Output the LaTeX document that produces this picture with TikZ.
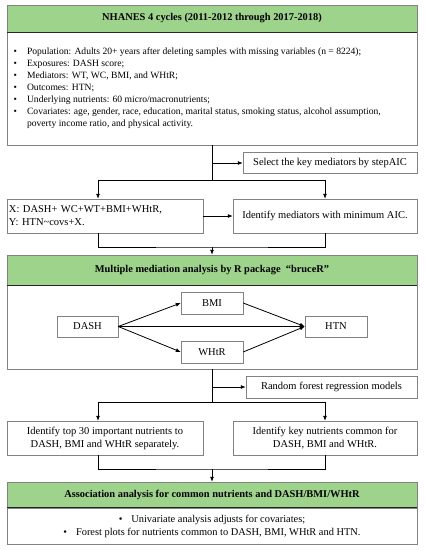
\documentclass[tikz,border=0pt]{standalone}
\usepackage{fontspec}
\setmainfont{Liberation Serif}
\usetikzlibrary{arrows.meta,calc}
\definecolor{hdrgreen}{RGB}{157,211,139}
\definecolor{boxgray}{RGB}{130,130,130}
\begin{document}
\begin{tikzpicture}[x=1pt,y=-1pt,
        hdr/.style={draw=boxgray,fill=hdrgreen,minimum width=410pt,inner sep=0pt,font=\fontsize{10.4}{12}\selectfont\bfseries},
        panel/.style={draw=boxgray,minimum width=410pt,inner sep=0pt},
        box/.style={draw=boxgray,inner sep=0pt,align=center,font=\fontsize{10.5}{13}\selectfont},
        hdrline/.style={line width=0.9pt,black!85},
        arr/.style={-{Latex[length=5pt,width=4pt]},line width=0.8pt},
        link/.style={line width=0.8pt}]
    \useasboundingbox (0,0) rectangle (424,550);
    % first stage: data
    \node [panel,minimum height=113pt] (bodyA) at (212,88.5) {};
    \node [hdr,minimum height=27pt] (hdrA) at (212,18.5) {NHANES 4 cycles (2011-2012 through 2017-2018)};
    \draw [hdrline] (hdrA.south west) -- (hdrA.south east);
    \node [anchor=west,inner sep=0pt,font=\fontsize{9.6}{12}\selectfont] (listA) at (13.5,88.5) {%
        \begin{tabular}{@{}l@{\hspace{10pt}}l@{}}
            \textbullet & Population: Adults 20+ years after deleting samples with missing variables (n = 8224);\\
            \textbullet & Exposures: DASH score;\\
            \textbullet & Mediators: WT, WC, BMI, and WHtR;\\
            \textbullet & Outcomes: HTN;\\
            \textbullet & Underlying nutrients: 60 micro/macronutrients;\\
            \textbullet & Covariates: age, gender, race, education, marital status, smoking status, alcohol assumption,\\
                        & poverty income ratio, and physical activity.
        \end{tabular}};
    % stepAIC
    \node [box,minimum width=174pt,minimum height=21pt] (aic) at (330,163) {Select the key mediators by stepAIC};
    \node [box,minimum width=196pt,minimum height=34pt,align=left,text width=192pt] (model) at (105,216)
        {X: DASH+ WC+WT+BMI+WHtR,\\Y: HTN\char`~covs+X.};
    \node [box,minimum width=184pt,minimum height=34pt] (ident) at (325,216) {Identify mediators with minimum AIC.};
    \coordinate (junA) at (212,163);
    \coordinate (splitA) at (212,180);
    \coordinate (tapL) at (98,180);
    \coordinate (tapR) at (325,180);
    \coordinate (mergeA) at (212,247);
    \draw [link] (bodyA.south) -- (splitA);
    \draw [arr] (junA) -- (aic.west);
    \draw [link] (tapL) -- (tapR);
    \draw [arr] (tapL) -- (model.north -| tapL);
    \draw [arr] (tapR) -- (ident.north);
    \draw [arr] (model.east |- ident.west) -- (ident.west);
    \draw [link] (model.south -| tapL) |- (mergeA) -| (ident.south);
    % second stage: mediation
    \node [panel,minimum height=84pt] (bodyB) at (212,327) {};
    \node [hdr,minimum height=30pt] (hdrB) at (212,270) {Multiple mediation analysis by R package \ \textquotedblleft bruceR\textquotedblright};
    \draw [hdrline] (hdrB.south west) -- (hdrB.south east);
    \draw [arr] (mergeA) -- (hdrB.north);
    \node [box,minimum width=61pt,minimum height=21pt] (dash) at (87.5,326.5) {DASH};
    \node [box,minimum width=62pt,minimum height=22pt] (bmi) at (212,303) {BMI};
    \node [box,minimum width=62pt,minimum height=22pt] (whtr) at (212,352) {WHtR};
    \node [box,minimum width=62pt,minimum height=21pt] (htn) at (336,326.5) {HTN};
    \draw [arr] (dash.east) -- (bmi.west);
    \draw [arr] (dash.east) -- (whtr.west);
    \draw [arr] (dash.east) -- (htn.west);
    \draw [arr] (bmi.east) -- (htn.west);
    \draw [arr] (whtr.east) -- (htn.west);
    % random forest
    \node [box,minimum width=171pt,minimum height=22pt] (rf) at (331.5,387) {Random forest regression models};
    \node [box,minimum width=196pt,minimum height=34pt] (top) at (105,438) {Identify top 30 important nutrients to\\DASH, BMI and WHtR separately.};
    \node [box,minimum width=184pt,minimum height=34pt] (common) at (325,438) {Identify key nutrients common for\\DASH, BMI and WHtR.};
    \coordinate (junB) at (212,387);
    \coordinate (splitB) at (212,402);
    \coordinate (tapLB) at (98,402);
    \coordinate (tapRB) at (325,402);
    \coordinate (mergeB) at (212,469);
    \draw [link] (bodyB.south) -- (splitB);
    \draw [arr] (junB) -- (rf.west);
    \draw [link] (tapLB) -- (tapRB);
    \draw [arr] (tapLB) -- (top.north -| tapLB);
    \draw [arr] (tapRB) -- (common.north);
    \draw [link] (top.south -| tapLB) |- (mergeB) -| (common.south);
    % third stage: association
    \node [panel,minimum height=36pt,font=\fontsize{10.4}{13}\selectfont,align=center] (bodyC) at (212,526)
        {\textbullet\hspace{9pt}Univariate analysis adjusts for covariates;\\
         \textbullet\hspace{9pt}Forest plots for nutrients common to DASH, BMI, WHtR and HTN.};
    \node [hdr,minimum height=25pt] (hdrC) at (212,494.5) {Association analysis for common nutrients and DASH/BMI/WHtR};
    \draw [hdrline] (hdrC.south west) -- (hdrC.south east);
    \draw [arr] (mergeB) -- (hdrC.north);
\end{tikzpicture}
\end{document}
